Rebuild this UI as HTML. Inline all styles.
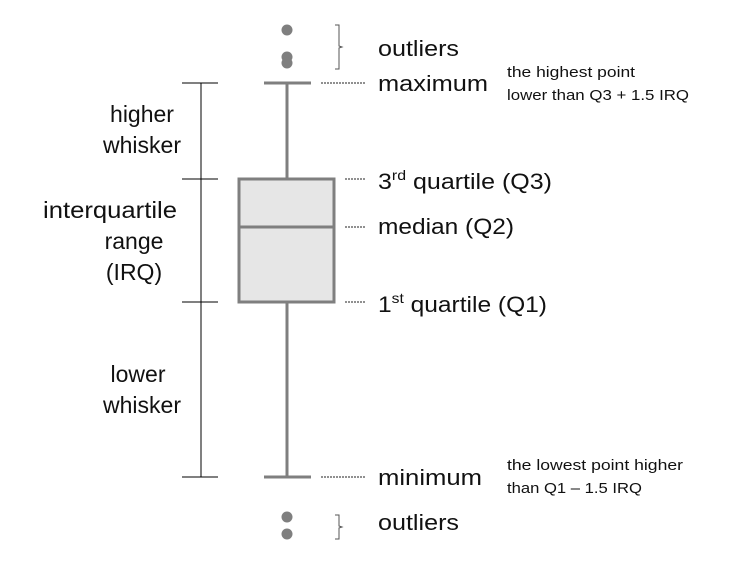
<!DOCTYPE html>
<html><head><meta charset="utf-8"><style>
body{margin:0;background:#fff;}
svg text{font-family:"Liberation Sans",sans-serif;fill:#111;}
</style></head><body>
<svg id="c" width="749" height="562" viewBox="0 0 749 562">
<g id="g"></g>
</svg>
<script>
// stats values (units); pixel = 477 - v*10
const statNames=["minimum","q1","median","q3","maximum"];
const statValues=[0,17.5,25,29.8,39.4];
const outliersHigh=[44.7,42.0,41.4];
const outliersLow=[-4.0,-5.7];
const NS="http://www.w3.org/2000/svg";
const g=document.getElementById('g');
function y(v){return 477-v*10;}
function el(t,a,p){const e=document.createElementNS(NS,t);for(const k in a)e.setAttribute(k,a[k]);(p||g).appendChild(e);return e;}
const [mn,q1,md,q3,mx]=statValues.map(y);
const cx=287,grey="#7f7f7f";
let e;
e=el('line',{x1:cx,x2:cx,y1:mx,y2:q3,stroke:grey,'stroke-width':3});


e=el('line',{x1:cx,x2:cx,y1:q1,y2:mn,stroke:grey,'stroke-width':3});


e=el('line',{x1:264,x2:311,y1:mx,y2:mx,stroke:grey,'stroke-width':3});


e=el('line',{x1:264,x2:311,y1:mn,y2:mn,stroke:grey,'stroke-width':3});


e=el('rect',{x:239,y:q3,width:95,height:q1-q3,fill:"#e6e6e6",stroke:grey,'stroke-width':3});


e=el('line',{x1:239,x2:334,y1:md,y2:md,stroke:grey,'stroke-width':3});


outliersHigh.concat(outliersLow).forEach(v=>{
  const c=el('circle',{cx:cx,cy:y(v),r:5.5,fill:grey});
  
  
});
[[mx,321],[q3,345],[md,345],[q1,345],[mn,321]].forEach(([yy,x0])=>{
  const l=el('line',{x1:x0,x2:366,y1:yy,y2:yy,stroke:"#222",'stroke-width':1,'stroke-dasharray':'2,1'});
  
  
});
e=el('line',{x1:201,x2:201,y1:mx,y2:mn,stroke:"#000",'stroke-width':1});


[mx,q3,q1,mn].forEach(yy=>{
  const l=el('line',{x1:182,x2:218,y1:yy,y2:yy,stroke:"#000",'stroke-width':1});
  
  
});
function brace(y0,y1){const m=(y0+y1)/2;
  const p=el('path',{d:`M335,${y0} H339 V${m-1} L342,${m} L339,${m+1} V${y1} H335`,fill:"none",stroke:"#555",'stroke-width':1});
  
  }
brace(25,69);brace(515,539);
function txt(s,x,yy,size,w,name){
  const t=el('text',{x:x,y:yy,'font-size':size,textLength:w,lengthAdjust:'spacingAndGlyphs'});
  t.textContent=s;
  
  
  return t;}
function ctxt(s,c,yy,name){
  const t=el('text',{x:c,y:yy,'font-size':23,'text-anchor':'middle'});
  t.textContent=s;
  
  
  return t;}
function sup(t,a,b){t.textContent=t.textContent.charAt(0);
  let ts=document.createElementNS(NS,'tspan');ts.setAttribute('font-size','14');ts.setAttribute('dy','-9');ts.textContent=a;t.appendChild(ts);
  ts=document.createElementNS(NS,'tspan');ts.setAttribute('dy','9');ts.textContent=b;t.appendChild(ts);}
txt("outliers",378,56,22,81,'outliers-label-top');
txt("maximum",378,91,22,110,'maximum-label');
txt("the highest point",507,77,15,128,'maximum-note-1');
txt("lower than Q3 + 1.5 IRQ",507,100,15,182,'maximum-note-2');
let t=txt("3",378,189,22,174,'q3-label');sup(t,"rd"," quartile (Q3)");
txt("median (Q2)",378,234,22,136,'median-label');
t=txt("1",378,312,22,169,'q1-label');sup(t,"st"," quartile (Q1)");
txt("minimum",378,485,22,104,'minimum-label');
txt("the lowest point higher",507,470,15,176,'minimum-note-1');
txt("than Q1 \u2013 1.5 IRQ",507,493,15,135,'minimum-note-2');
txt("outliers",378,530,22,81,'outliers-label-bottom');
ctxt("higher",142,122,'higher-whisker-label-1');
ctxt("whisker",142,153,'higher-whisker-label-2');
t=txt("interquartile",43,218,23,134,'iqr-label-1');
ctxt("range",134,249,'iqr-label-2');
ctxt("(IRQ)",134,280,'iqr-label-3');
ctxt("lower",138,382,'lower-whisker-label-1');
ctxt("whisker",142,413,'lower-whisker-label-2');
</script>
</body></html>
